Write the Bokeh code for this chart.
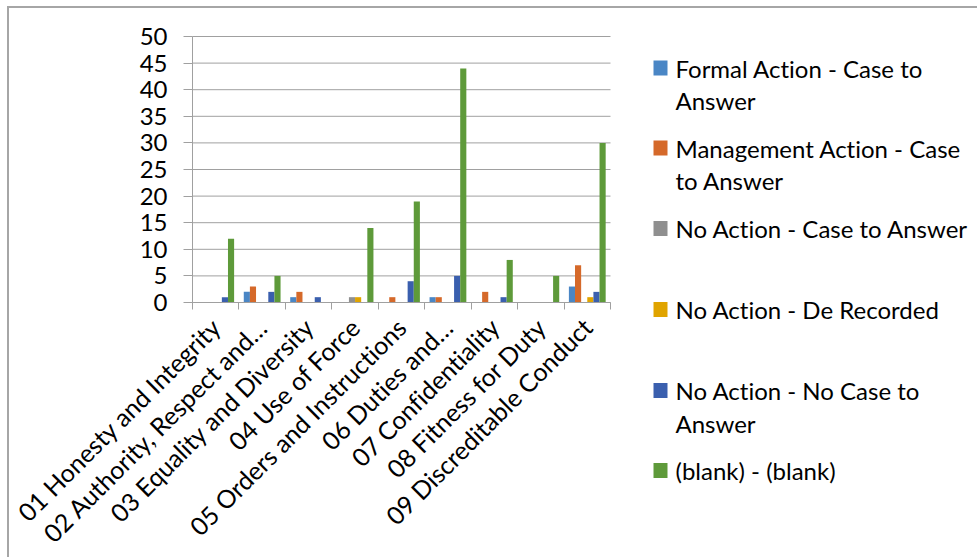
import math
from bokeh.plotting import figure
from bokeh.models import Range1d, FixedTicker, ColumnDataSource
from bokeh.core.properties import value
from bokeh.embed import file_html
from bokeh.resources import INLINE

# ---------------- data ----------------
categories = ["01 Honesty and Integrity", "02 Authority, Respect and…",
              "03 Equality and Diversity", "04 Use of Force",
              "05 Orders and Instructions", "06 Duties and…",
              "07 Confidentiality", "08 Fitness for Duty",
              "09 Discreditable Conduct"]
series_names = ["Formal Action - Case to Answer",
                "Management Action - Case to Answer",
                "No Action - Case to Answer",
                "No Action - De Recorded",
                "No Action - No Case to Answer",
                "(blank) - (blank)"]
formal_action = [0, 2, 1, 0, 0, 1, 0, 0, 3]
management_action = [0, 3, 2, 0, 1, 1, 2, 0, 7]
no_action_case = [0, 0, 0, 1, 0, 0, 0, 0, 0]
no_action_de_recorded = [0, 0, 0, 1, 0, 0, 0, 0, 1]
no_action_no_case = [1, 2, 1, 0, 4, 5, 1, 0, 2]
blank = [12, 5, 0, 14, 19, 44, 8, 5, 30]
y_ticks = [0, 5, 10, 15, 20, 25, 30, 35, 40, 45, 50]

series_values = [formal_action, management_action, no_action_case,
                 no_action_de_recorded, no_action_no_case, blank]
colors = ["#4A86C5", "#D5692A", "#8F8F8F", "#E0A400", "#3A5FAE", "#5E9A3A"]
legend_lines = [["Formal Action - Case to", "Answer"],
                ["Management Action - Case", "to Answer"],
                ["No Action - Case to Answer"],
                ["No Action - De Recorded"],
                ["No Action - No Case to", "Answer"],
                ["(blank) - (blank)"]]

FONT = "Lato"
FS = "24px"
XFS = "25px"
GRID = "#a0a0a0"

# ---------------- geometry (page pixels) ----------------
ORIGIN_X, ORIGIN_Y = 9, 8          # after the 2px border
W, H = 979 - ORIGIN_X, 559 - ORIGIN_Y
PLOT_L, PLOT_R = 192, 610          # bar area (x = 0.5 .. 9.5)
PLOT_T, PLOT_B = 36, 302           # bar area (y = 50 .. 0)
n = len(categories)
YMAX = 50
px_per_x = (PLOT_R - PLOT_L) / n
px_per_y = (PLOT_B - PLOT_T) / YMAX


def dx(px):  # page x -> data x
    return 0.5 + (px - PLOT_L) / px_per_x


def dy(py):  # page y -> data y
    return (PLOT_B - py) / px_per_y


centers = list(range(1, n + 1))
p = figure(width=W, height=H, output_backend="svg", toolbar_location=None,
           x_range=Range1d(dx(ORIGIN_X), dx(ORIGIN_X + W)),
           y_range=Range1d(dy(ORIGIN_Y + H), dy(ORIGIN_Y)),
           min_border_left=0, min_border_right=0,
           min_border_top=0, min_border_bottom=0)
p.outline_line_color = None
p.background_fill_color = "white"
p.border_fill_color = "white"
p.xgrid.visible = False
p.ygrid.visible = False

# horizontal gridlines across the bar area only
p.segment(x0=[0.5] * len(y_ticks), x1=[n + 0.5] * len(y_ticks),
          y0=y_ticks, y1=y_ticks, line_color=GRID, line_width=1)

bw = 0.132
for k, (vals, col) in enumerate(zip(series_values, colors)):
    off = (k - 2.5) * bw
    src = ColumnDataSource(dict(x=[c + off for c in centers], top=vals))
    p.vbar(x="x", top="top", bottom=0, width=bw, source=src,
           fill_color=col, line_color=None)

# axes (drawn at fixed positions inside the canvas-wide frame)
p.xaxis.fixed_location = 0
p.xaxis.bounds = (0.5, n + 0.5)
p.xaxis.ticker = FixedTicker(ticks=centers,
                             minor_ticks=[c - 0.5 for c in centers] + [n + 0.5])
p.xaxis.major_label_overrides = {c: lab for c, lab in zip(centers, categories)}
p.xaxis.major_label_orientation = math.pi / 4
p.xaxis.major_tick_out = 0
p.xaxis.major_tick_in = 0
p.xaxis.minor_tick_out = 7
p.xaxis.minor_tick_in = 0
p.xaxis.minor_tick_line_color = GRID
p.xaxis.axis_line_color = GRID
p.xaxis.major_label_standoff = 13
p.xaxis.major_label_text_font_size = XFS

p.yaxis.fixed_location = 0.5
p.yaxis.bounds = (0, YMAX)
p.yaxis.ticker = FixedTicker(ticks=y_ticks)
p.yaxis.major_tick_out = 9
p.yaxis.major_tick_in = 0
p.yaxis.minor_tick_out = 0
p.yaxis.minor_tick_in = 0
p.yaxis.major_tick_line_color = GRID
p.yaxis.axis_line_color = GRID
p.yaxis.major_label_standoff = 16
p.yaxis.major_label_text_font_size = FS

for ax in (p.xaxis, p.yaxis):
    ax.major_label_text_font = FONT
    ax.major_label_text_color = "#000000"

# ---------------- legend (drawn beside the bar area) ----------------
item_y = [67.5, 147.5, 228, 309, 390, 470]
line_gap = 32.5
p.rect(x=[dx(660)] * len(colors), y=[dy(v) for v in item_y],
       width=14, height=15, width_units="screen", height_units="screen",
       fill_color=colors, line_color=None)
tx, ty, tt = [], [], []
for yy, lines in zip(item_y, legend_lines):
    for j, ln in enumerate(lines):
        tx.append(dx(675))
        ty.append(dy(yy + j * line_gap))
        tt.append(ln)
p.text(x=tx, y=ty, text=tt, text_font=value(FONT), text_font_size=FS,
       text_baseline="middle", text_align="left", text_color="#000000")

p.styles = {"margin-left": "7px", "margin-top": "6px",
            "border-left": "2px solid #a6a6a6",
            "border-top": "2px solid #a6a6a6",
            "font-variant-ligatures": "none"}

open("out.html", "w").write(file_html(p, INLINE))
